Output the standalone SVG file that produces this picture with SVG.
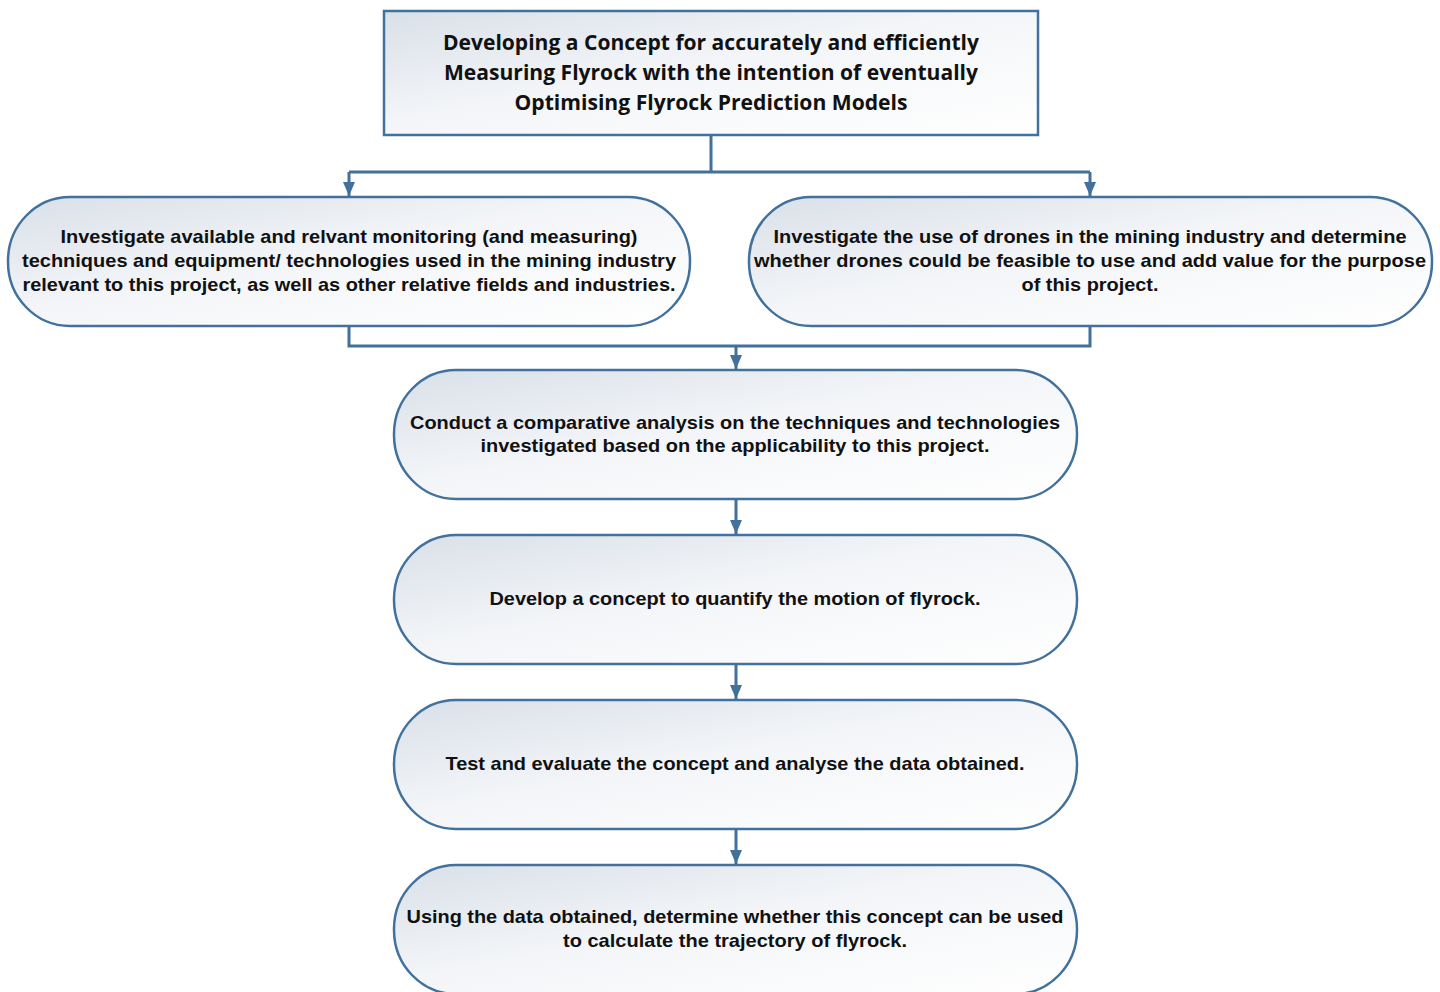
<svg xmlns="http://www.w3.org/2000/svg" width="1440" height="992" viewBox="0 0 1440 992">
  <defs>
    <linearGradient id="fillGrad" x1="0" y1="0" x2="1" y2="1">
      <stop offset="0" stop-color="#d9e0e8"/>
      <stop offset="0.45" stop-color="#f3f5f8"/>
      <stop offset="1" stop-color="#ffffff"/>
    </linearGradient>
    <marker id="arrow" viewBox="0 0 14 12" refX="14" refY="6" markerWidth="14" markerHeight="12" markerUnits="userSpaceOnUse" orient="auto">
      <path d="M0,0 L14,6 L0,12 Z" fill="#41719c"/>
    </marker>
    <style>
      .box { fill: url(#fillGrad); stroke: #41719c; stroke-width: 2.5; }
      .conn { fill: none; stroke: #41719c; stroke-width: 3; }
      .title { font-family: "Open Sans", "Liberation Sans", sans-serif; font-weight: bold; font-size: 21.5px; fill: #111; text-anchor: middle; }
      .lbl { font-family: "Liberation Sans", Arial, sans-serif; font-weight: bold; font-size: 18.5px; fill: #111; text-anchor: middle; }
    </style>
  </defs>

  <rect width="1440" height="992" fill="#ffffff"/>

  <!-- connectors -->
  <g id="connectors">
    <path class="conn" d="M711,135 V172"/>
    <path class="conn" d="M349,172 H1090"/>
    <path class="conn" d="M349,172 V196" marker-end="url(#arrow)"/>
    <path class="conn" d="M1090,172 V196" marker-end="url(#arrow)"/>
    <path class="conn" d="M349,326 V346 H1090 V326"/>
    <path class="conn" d="M736,346 V369" marker-end="url(#arrow)"/>
    <path class="conn" d="M736,499 V534" marker-end="url(#arrow)"/>
    <path class="conn" d="M736,664 V699" marker-end="url(#arrow)"/>
    <path class="conn" d="M736,829 V864" marker-end="url(#arrow)"/>
  </g>

  <!-- goal -->
  <g id="goal">
    <rect class="box" x="384" y="11" width="654" height="124"/>
    <text class="title" x="711" y="50" textLength="536" lengthAdjust="spacingAndGlyphs">Developing a Concept for accurately and efficiently</text>
    <text class="title" x="711" y="80" textLength="534" lengthAdjust="spacingAndGlyphs">Measuring Flyrock with the intention of eventually</text>
    <text class="title" x="711" y="110" textLength="393" lengthAdjust="spacingAndGlyphs">Optimising Flyrock Prediction Models</text>
  </g>

  <!-- investigate monitoring techniques -->
  <g id="investigate-techniques">
    <rect class="box" x="8" y="197" width="682" height="129" rx="62" ry="64"/>
    <text class="lbl" x="349" y="243" textLength="577" lengthAdjust="spacingAndGlyphs">Investigate available and relvant monitoring (and measuring)</text>
    <text class="lbl" x="349" y="267" textLength="654" lengthAdjust="spacingAndGlyphs">techniques and equipment/ technologies used in the mining industry</text>
    <text class="lbl" x="349" y="291" textLength="653" lengthAdjust="spacingAndGlyphs">relevant to this project, as well as other relative fields and industries.</text>
  </g>

  <!-- investigate drones -->
  <g id="investigate-drones">
    <rect class="box" x="749" y="197" width="683" height="129" rx="62" ry="64"/>
    <text class="lbl" x="1090" y="243" textLength="633" lengthAdjust="spacingAndGlyphs">Investigate the use of drones in the mining industry and determine</text>
    <text class="lbl" x="1090" y="267" textLength="672" lengthAdjust="spacingAndGlyphs">whether drones could be feasible to use and add value for the purpose</text>
    <text class="lbl" x="1090" y="291" textLength="137" lengthAdjust="spacingAndGlyphs">of this project.</text>
  </g>

  <!-- comparative analysis -->
  <g id="comparative-analysis">
    <rect class="box" x="394" y="370" width="683" height="129" rx="62" ry="64"/>
    <text class="lbl" x="735" y="429" textLength="650" lengthAdjust="spacingAndGlyphs">Conduct a comparative analysis on the techniques and technologies</text>
    <text class="lbl" x="735" y="452" textLength="509" lengthAdjust="spacingAndGlyphs">investigated based on the applicability to this project.</text>
  </g>

  <!-- develop concept -->
  <g id="develop-concept">
    <rect class="box" x="394" y="535" width="683" height="129" rx="62" ry="64"/>
    <text class="lbl" x="735" y="605" textLength="491" lengthAdjust="spacingAndGlyphs">Develop a concept to quantify the motion of flyrock.</text>
  </g>

  <!-- test and evaluate -->
  <g id="test-evaluate">
    <rect class="box" x="394" y="700" width="683" height="129" rx="62" ry="64"/>
    <text class="lbl" x="735" y="770" textLength="579" lengthAdjust="spacingAndGlyphs">Test and evaluate the concept and analyse the data obtained.</text>
  </g>

  <!-- trajectory -->
  <g id="trajectory">
    <rect class="box" x="394" y="865" width="683" height="129" rx="62" ry="64"/>
    <text class="lbl" x="735" y="923" textLength="657" lengthAdjust="spacingAndGlyphs">Using the data obtained, determine whether this concept can be used</text>
    <text class="lbl" x="735" y="947" textLength="344" lengthAdjust="spacingAndGlyphs">to calculate the trajectory of flyrock.</text>
  </g>
</svg>
